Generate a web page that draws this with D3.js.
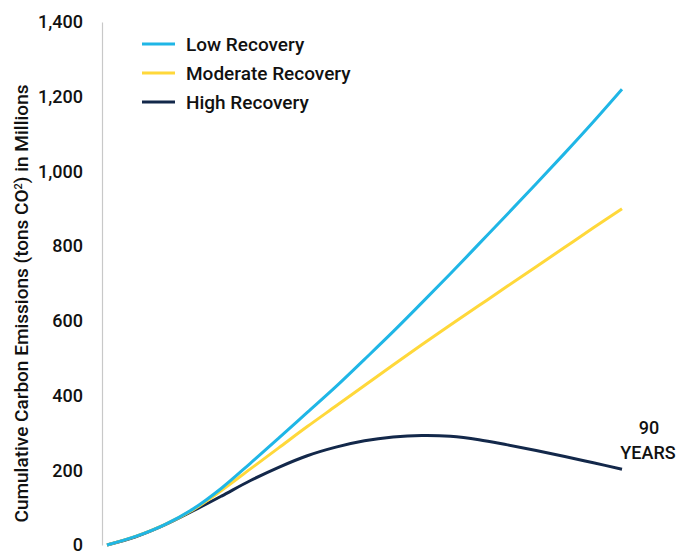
<!DOCTYPE html>
<html>
<head>
<meta charset="utf-8">
<script src="https://cdn.jsdelivr.net/npm/d3@7"></script>
<style>
  html, body { margin: 0; padding: 0; background: #ffffff; }
  svg { display: block; }
  text { font-family: Roboto, "DejaVu Sans Condensed", sans-serif; font-weight: 500; fill: #111; }
</style>
</head>
<body>
<svg id="chart" width="690" height="556"></svg>
<script>
// Years since start, sampled every 5 years
const years = [0, 5, 10, 15, 20, 25, 30, 35, 40, 45, 50, 55, 60, 65, 70, 75, 80, 85, 90];

// Cumulative emissions (millions of tons CO2) per recovery scenario
const lowRecovery      = [0, 23, 54, 96, 152, 218, 286, 355, 424, 497, 571, 648, 726, 806, 886, 967, 1049, 1133, 1220];
const moderateRecovery = [0, 23, 54, 94, 146, 203, 260, 317, 372, 427, 482, 536, 589, 641, 693, 745, 797, 849, 900];
const highRecovery     = [0, 22, 53, 91, 131, 172, 208, 239, 262, 279, 289, 293, 291, 282, 268, 253, 237, 220, 203];

const seriesNames  = ["Low Recovery", "Moderate Recovery", "High Recovery"];
const seriesColors = ["#1fb6e6", "#ffd83a", "#13284a"];
const yTicks = [0, 200, 400, 600, 800, 1000, 1200, 1400];

const series = [lowRecovery, moderateRecovery, highRecovery].map((vals, i) => ({
  name: seriesNames[i],
  color: seriesColors[i],
  points: years.map((yr, j) => ({ year: yr, value: vals[j] }))
}));

const svg = d3.select("#chart");

const x = d3.scaleLinear().domain([0, 90]).range([107, 622]);
const y = d3.scaleLinear().domain([0, 1400]).range([545, 22]);

// Vertical axis with tick labels only
const yAxis = d3.axisLeft(y)
  .tickValues(yTicks)
  .tickSize(0)
  .tickPadding(19)
  .tickFormat(d3.format(","));

const gy = svg.append("g")
  .attr("transform", "translate(102,0)")
  .call(yAxis);
gy.select(".domain").attr("stroke", "#c8c8c8").attr("stroke-width", 1.2);
gy.selectAll(".tick text")
  .style("font-size", "18px")
  .style("font-family", "Roboto, \"DejaVu Sans Condensed\", sans-serif")
  .style("font-weight", "500")
  .attr("fill", "#111");

// Axis title
const title = svg.append("text")
  .attr("transform", "translate(28," + ((545 + 62) / 2) + ") rotate(-90)")
  .attr("text-anchor", "middle")
  .style("font-size", "19px");
title.append("tspan").text("Cumulative Carbon Emissions (tons CO");
title.append("tspan").attr("baseline-shift", "super").style("font-size", "11px").text("2");
title.append("tspan").text(") in Millions");

// Scenario lines
const line = d3.line()
  .x(d => x(d.year))
  .y(d => y(d.value))
  .curve(d3.curveCatmullRom);

svg.append("g")
  .selectAll("path")
  .data(series.slice().reverse())
  .join("path")
  .attr("d", d => line(d.points))
  .attr("fill", "none")
  .attr("stroke", d => d.color)
  .attr("stroke-width", 3)
  .attr("stroke-linecap", "butt");

// Legend
const legend = svg.append("g").attr("transform", "translate(142,44)");
const item = legend.selectAll("g")
  .data(series)
  .join("g")
  .attr("transform", (d, i) => "translate(0," + i * 29 + ")");
item.append("line")
  .attr("x1", 0).attr("x2", 33)
  .attr("stroke", d => d.color)
  .attr("stroke-width", 3);
item.append("text")
  .attr("x", 44)
  .attr("dy", "0.35em")
  .style("font-size", "19px")
  .text(d => d.name);

// End label
const endLabel = svg.append("text")
  .attr("text-anchor", "middle")
  .style("font-size", "18px");
endLabel.append("tspan").attr("x", 649).attr("y", 434).text("90");
endLabel.append("tspan").attr("x", 648).attr("y", 459).text("YEARS");
</script>
</body>
</html>
